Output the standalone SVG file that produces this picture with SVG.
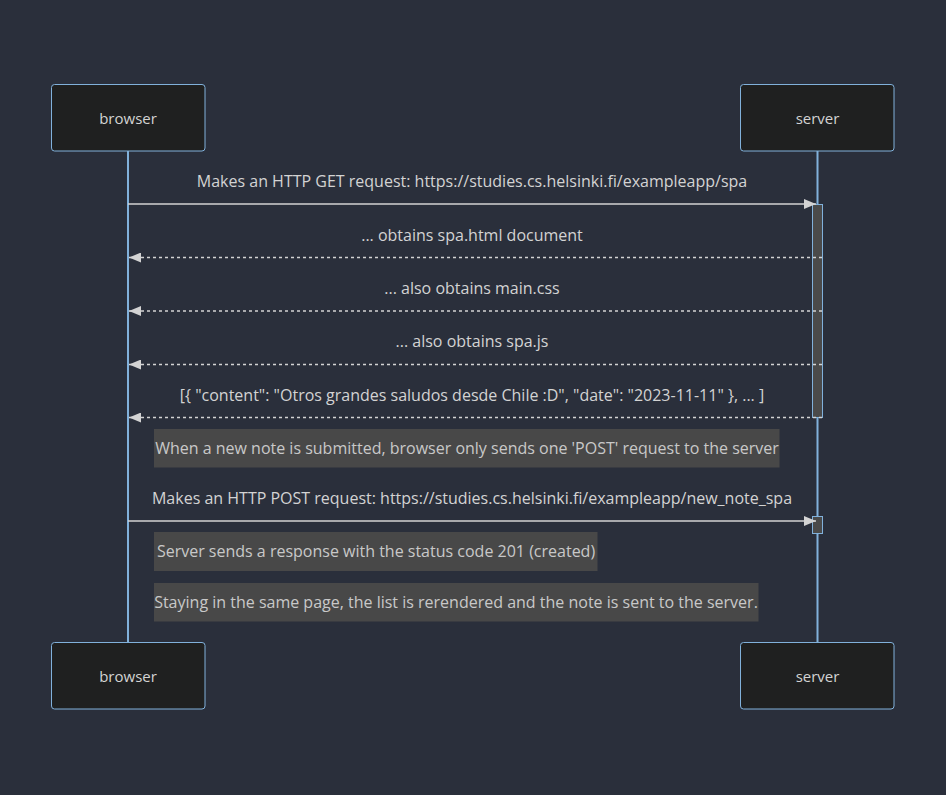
<svg xmlns="http://www.w3.org/2000/svg" width="946" height="795" viewBox="0 0 946 795">
<style>
.actor{fill:#1f2020;stroke:#81B1DB;stroke-width:1}
.atext{font-family:"Open Sans","Liberation Sans",sans-serif;font-size:15px;fill:#d3d3d3;text-anchor:middle;dominant-baseline:central}
.life{stroke:#81B1DB;stroke-width:2}
.msg{stroke:#d3d3d3;stroke-width:1.5;fill:none}
.dash{stroke-dasharray:3 3}
.mtext{font-family:"Open Sans","Liberation Sans",sans-serif;font-size:16px;fill:#d3d3d3;text-anchor:middle;dominant-baseline:central}
.note{fill:#484848;stroke:#484848}
.ntext{font-family:"Open Sans","Liberation Sans",sans-serif;font-size:16px;fill:#c8c8c8;text-anchor:middle;dominant-baseline:central}
.act{fill:#4a4a4a;stroke:#81B1DB;stroke-width:1}
</style>
<defs>
<marker id="arrow" viewBox="0 0 12 10" refX="12" refY="5" markerWidth="12" markerHeight="10" markerUnits="userSpaceOnUse" orient="auto">
<path d="M0,0 L12,5 L0,10 z" fill="#d3d3d3"/>
</marker>
</defs>
<rect width="946" height="795" fill="#2a2f3b"/>
<g id="lifelines">
<line class="life" x1="128" y1="151" x2="128" y2="643"/>
<line class="life" x1="817.5" y1="151" x2="817.5" y2="643"/>
</g>
<g id="activations">
<rect class="act" x="812.5" y="204.5" width="10" height="213"/>
<rect class="act" x="812.5" y="516.5" width="10" height="17"/>
</g>
<g id="browser-top"><rect class="actor" x="51.5" y="84.5" width="153.5" height="66.5" rx="3"/><text class="atext" x="128" y="118">browser</text></g>
<g id="server-top"><rect class="actor" x="740.5" y="84.5" width="153.5" height="66.5" rx="3"/><text class="atext" x="817.5" y="118">server</text></g>
<g id="browser-bottom"><rect class="actor" x="51.5" y="642.5" width="153.5" height="66.5" rx="3"/><text class="atext" x="128" y="676">browser</text></g>
<g id="server-bottom"><rect class="actor" x="740.5" y="642.5" width="153.5" height="66.5" rx="3"/><text class="atext" x="817.5" y="676">server</text></g>
<g id="connectors">
<line class="msg" x1="128" y1="204" x2="816" y2="204" marker-end="url(#arrow)"/>
<line class="msg dash" x1="822" y1="257.5" x2="129" y2="257.5" marker-end="url(#arrow)"/>
<line class="msg dash" x1="822" y1="311" x2="129" y2="311" marker-end="url(#arrow)"/>
<line class="msg dash" x1="822" y1="364.5" x2="129" y2="364.5" marker-end="url(#arrow)"/>
<line class="msg dash" x1="822" y1="417.5" x2="129" y2="417.5" marker-end="url(#arrow)"/>
<line class="msg" x1="128" y1="521" x2="816" y2="521" marker-end="url(#arrow)"/>
</g>
<g id="labels">
<text class="mtext" x="472" y="181">Makes an HTTP GET request: https://studies.cs.helsinki.fi/exampleapp/spa</text>
<text class="mtext" x="472" y="235">... obtains spa.html document</text>
<text class="mtext" x="472" y="288">... also obtains main.css</text>
<text class="mtext" x="472" y="341">... also obtains spa.js</text>
<text class="mtext" x="472" y="395">[{ "content": "Otros grandes saludos desde Chile :D", "date": "2023-11-11" }, ... ]</text>
<text class="mtext" x="472" y="498">Makes an HTTP POST request: https://studies.cs.helsinki.fi/exampleapp/new_note_spa</text>
</g>
<g id="note1"><rect class="note" x="154.5" y="429.5" width="624.5" height="37.5"/><text class="ntext" x="467" y="448">When a new note is submitted, browser only sends one 'POST' request to the server</text></g>
<g id="note2"><rect class="note" x="154.5" y="532.5" width="442.5" height="38"/><text class="ntext" x="376" y="551">Server sends a response with the status code 201 (created)</text></g>
<g id="note3"><rect class="note" x="154.5" y="583.5" width="603.5" height="37.5"/><text class="ntext" x="456" y="602">Staying in the same page, the list is rerendered and the note is sent to the server.</text></g>
</svg>
